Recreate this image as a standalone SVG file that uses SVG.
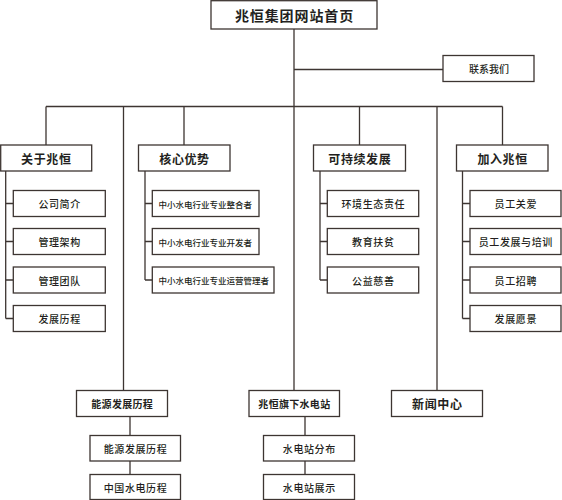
<svg xmlns="http://www.w3.org/2000/svg" width="562" height="500" viewBox="0 0 562 500">
<style>
.b{fill:#fff;stroke:#3d3532;stroke-width:1.3}
.c{fill:none;stroke:#3d3532;stroke-width:1.3}
text{font-family:"Noto Sans CJK SC","Noto Sans",sans-serif;fill:#231f20;dominant-baseline:central;text-anchor:middle}
.t0{font-size:14px;font-weight:bold;letter-spacing:0.9px}
.t1{font-size:12px;font-weight:bold;letter-spacing:0.6px}
.t2{font-size:10px;font-weight:500;letter-spacing:0.6px}
.t3{font-size:8.5px;font-weight:500;text-anchor:start}
.t4{font-size:10px;font-weight:bold;letter-spacing:0.3px}
</style>
<rect width="562" height="500" fill="#fff"/>
<g id="connectors">
<path class="c" d="M294 29V391M294 69.5H443M46 106.5H502.5M46 106.5V145M123.5 106.5V391M184 106.5V145M359.5 106.5V145M437 106.5V391M502.5 106.5V145"/>
<path class="c" d="M5.7 171V318.5M5.7 203.5H13.3M5.7 241.5H13.3M5.7 280H13.3M5.7 318.5H13.3"/>
<path class="c" d="M145 171V280M145 203.5H152.3M145 241.5H152.3M145 280H152.3"/>
<path class="c" d="M320 171V280M320 203.5H327.3M320 241.5H327.3M320 280H327.3"/>
<path class="c" d="M462.5 171V318.5M462.5 203.5H470M462.5 241.5H470M462.5 280H470M462.5 318.5H470"/>
<path class="c" d="M130 416.5V474.5M305 416.5V474.5"/>
</g>
<g id="home"><rect class="b" x="211" y="0.7" width="166" height="28.3"/><text class="t0" x="294.5" y="15">兆恒集团网站首页</text></g>
<g id="contact"><rect class="b" x="443" y="55.5" width="91" height="26"/><text class="t2" x="489" y="68.5" style="letter-spacing:0">联系我们</text></g>
<g id="about"><rect class="b" x="0.7" y="145" width="91" height="26"/><text class="t1" x="46.3" y="158">关于兆恒</text></g>
<g id="about1"><rect class="b" x="13.3" y="190.5" width="92" height="26"/><text class="t2" x="59.6" y="203.5">公司简介</text></g>
<g id="about2"><rect class="b" x="13.3" y="228.5" width="92" height="26"/><text class="t2" x="59.6" y="241.5">管理架构</text></g>
<g id="about3"><rect class="b" x="13.3" y="267" width="92" height="26"/><text class="t2" x="59.6" y="280">管理团队</text></g>
<g id="about4"><rect class="b" x="13.3" y="305.5" width="92" height="26"/><text class="t2" x="59.6" y="318.5">发展历程</text></g>
<g id="core"><rect class="b" x="138.5" y="145" width="91.5" height="26"/><text class="t1" x="184.5" y="158">核心优势</text></g>
<g id="core1"><rect class="b" x="152.3" y="190.5" width="106.7" height="26"/><text class="t3" x="158.5" y="203.5">中小水电行业专业整合者</text></g>
<g id="core2"><rect class="b" x="152.3" y="228.5" width="106.7" height="26"/><text class="t3" x="158.5" y="241.5">中小水电行业专业开发者</text></g>
<g id="core3"><rect class="b" x="152.3" y="267" width="121.7" height="26"/><text class="t3" x="158.5" y="280">中小水电行业专业运营管理者</text></g>
<g id="sustain"><rect class="b" x="313.5" y="145" width="92" height="26"/><text class="t1" x="359.8" y="158">可持续发展</text></g>
<g id="sustain1"><rect class="b" x="327.3" y="190.5" width="91.4" height="26"/><text class="t2" x="373.3" y="203.5">环境生态责任</text></g>
<g id="sustain2"><rect class="b" x="327.3" y="228.5" width="91.4" height="26"/><text class="t2" x="373.3" y="241.5">教育扶贫</text></g>
<g id="sustain3"><rect class="b" x="327.3" y="267" width="91.4" height="26"/><text class="t2" x="373.3" y="280">公益慈善</text></g>
<g id="join"><rect class="b" x="456.5" y="145" width="91.5" height="26"/><text class="t1" x="502.6" y="158">加入兆恒</text></g>
<g id="join1"><rect class="b" x="470" y="190.5" width="91" height="26"/><text class="t2" x="515.8" y="203.5">员工关爱</text></g>
<g id="join2"><rect class="b" x="470" y="228.5" width="91" height="26"/><text class="t2" x="515.8" y="241.5">员工发展与培训</text></g>
<g id="join3"><rect class="b" x="470" y="267" width="91" height="26"/><text class="t2" x="515.8" y="280">员工招聘</text></g>
<g id="join4"><rect class="b" x="470" y="305.5" width="91" height="26"/><text class="t2" x="515.8" y="318.5">发展愿景</text></g>
<g id="energy"><rect class="b" x="76.5" y="390.5" width="91" height="26"/><text class="t4" x="122.2" y="403.5">能源发展历程</text></g>
<g id="energy1"><rect class="b" x="90" y="435.5" width="90.5" height="25.5"/><text class="t2" x="135.5" y="448.3">能源发展历程</text></g>
<g id="energy2"><rect class="b" x="90" y="474.5" width="90.5" height="25"/><text class="t2" x="135.5" y="487">中国水电历程</text></g>
<g id="station"><rect class="b" x="249" y="390.5" width="90.5" height="26"/><text class="t4" x="294.4" y="403.5">兆恒旗下水电站</text></g>
<g id="station1"><rect class="b" x="263.5" y="435.5" width="91" height="25.5"/><text class="t2" x="309.3" y="448.3">水电站分布</text></g>
<g id="station2"><rect class="b" x="263.5" y="474.5" width="91" height="25"/><text class="t2" x="309.3" y="487">水电站展示</text></g>
<g id="news"><rect class="b" x="391.5" y="390.5" width="91" height="26"/><text class="t1" x="437.3" y="403.5">新闻中心</text></g>
</svg>
